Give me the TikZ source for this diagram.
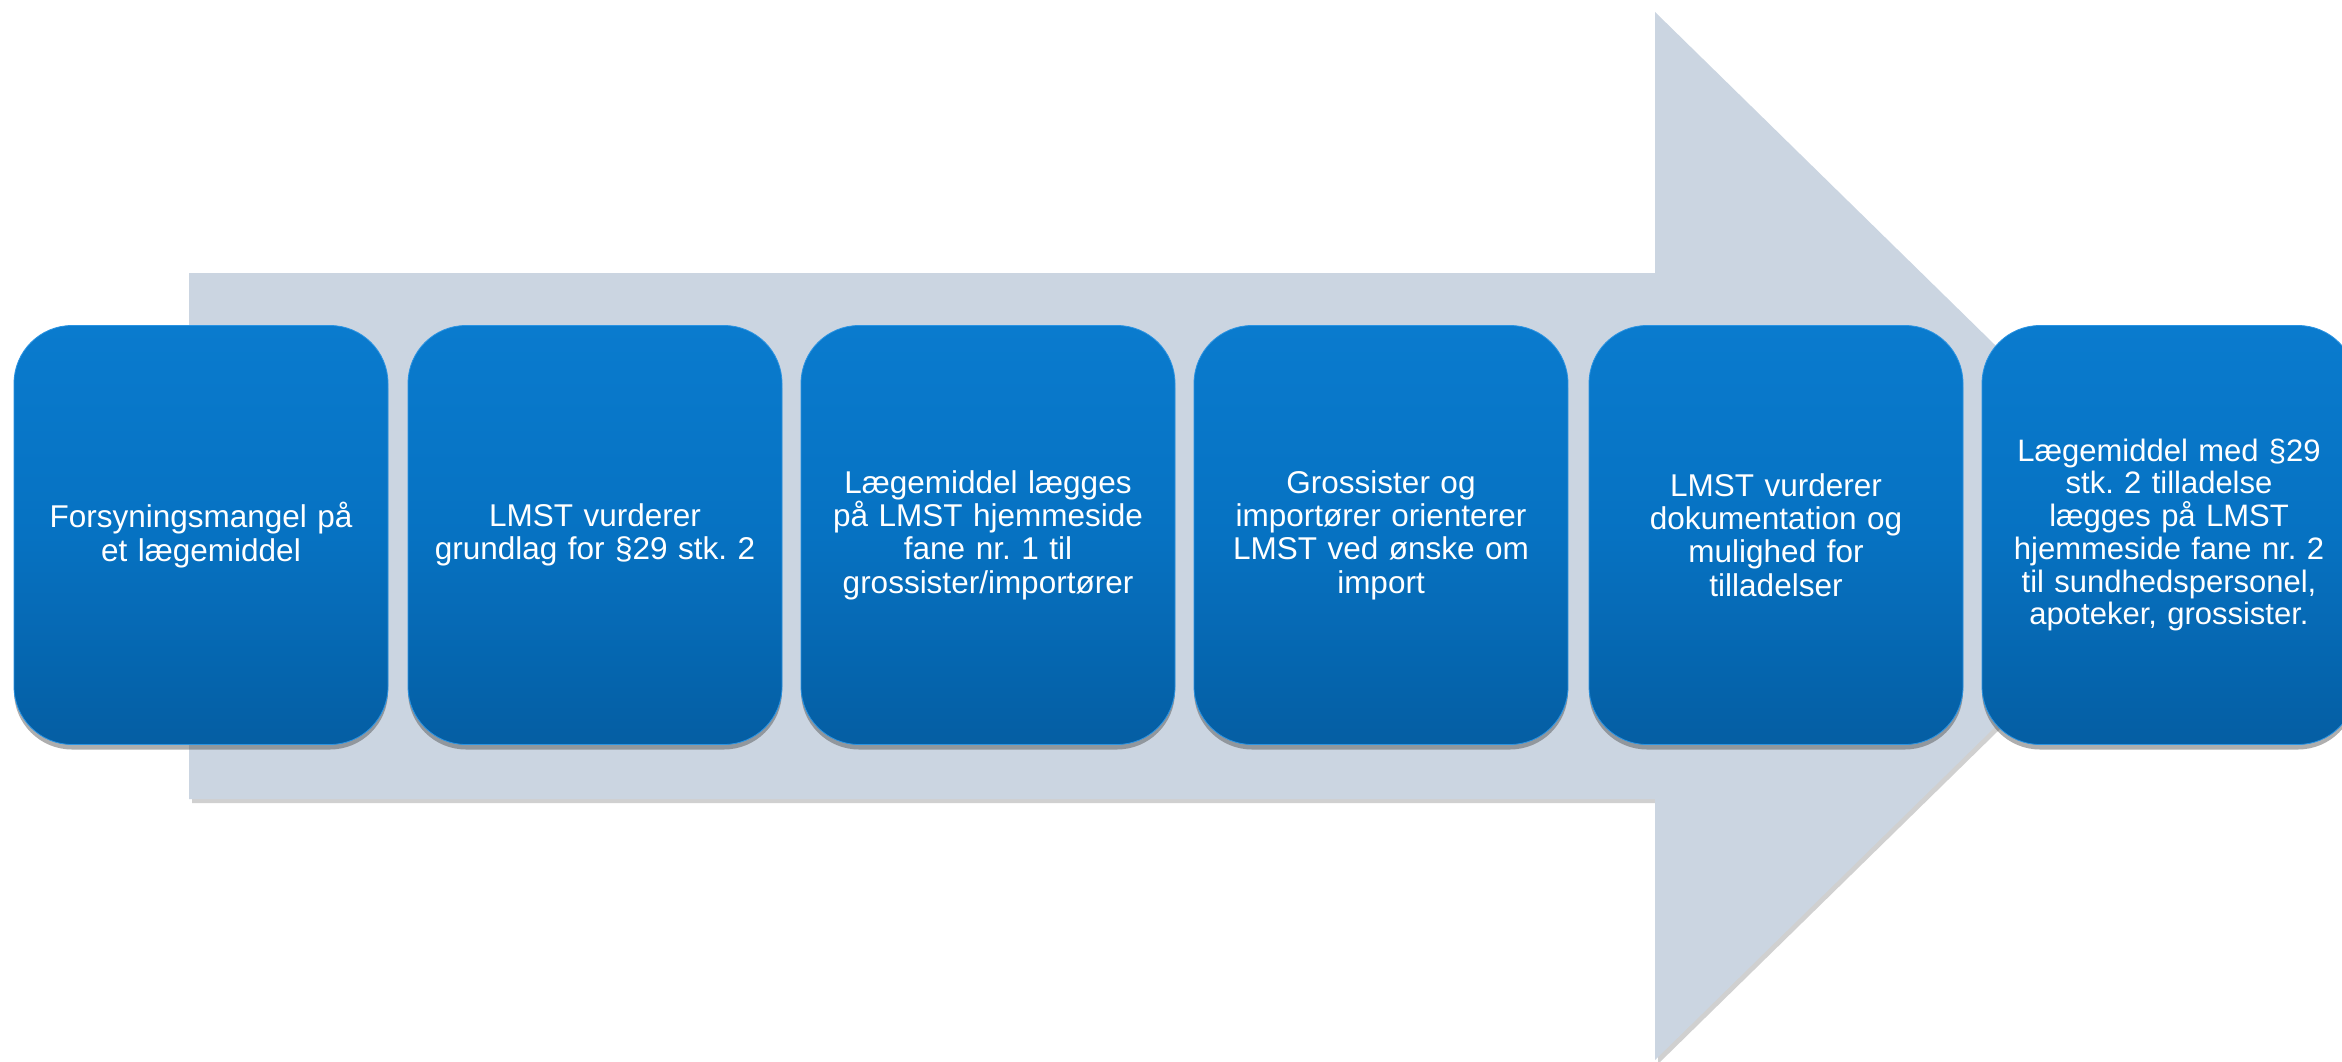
\documentclass[tikz,border=0pt]{standalone}
\usepackage{fontspec}
\setmainfont{Liberation Sans}
\usetikzlibrary{shadows}
\frenchspacing
\definecolor{arrowgray}{HTML}{CBD5E1}
\definecolor{boxtop}{HTML}{0A7BCE}
\definecolor{boxmid}{HTML}{0672C2}
\definecolor{boxbot}{HTML}{055EA3}
\definecolor{boxedge}{HTML}{2A93E2}
\definecolor{titleblue}{HTML}{0A78C8}
\tikzset{
  stepbox/.style={rectangle, rounded corners=58pt, minimum width=374pt, minimum height=419pt,
    inner sep=0pt, text width=350pt, align=center, text=white,
    top color=boxtop, bottom color=boxbot, middle color=boxmid,
    draw=boxedge, line width=0.8pt,
    drop shadow={opacity=0.45, shadow xshift=0pt, shadow yshift=-5pt, fill=black!70},
    font=\frenchspacing\fontsize{31.5}{33.3}\selectfont},
  smalltext/.style={font=\frenchspacing\fontsize{31}{32.7}\selectfont},
  bigarrow/.style={fill=arrowgray,
    drop shadow={opacity=0.3, shadow xshift=3pt, shadow yshift=-4pt, fill=black!60}}
}
\begin{document}
\begin{tikzpicture}[x=1pt,y=-1pt]
\useasboundingbox (0,0) rectangle (2342,1062);
\clip (0,0) rectangle (2342,1062);
\fill[white] (0,0) rectangle (2342,1062);
% cut-off title fragment
\fill[titleblue] (686,0) arc[start angle=180, end angle=360, x radius=14, y radius=4] -- cycle;
% big arrow
\path[bigarrow] (189,273) -- (1655,273) -- (1655,12) -- (2190,536) -- (1655,1060) -- (1655,799) -- (189,799) -- cycle;
% steps
\node[stepbox] (b1) at (201,535) {Forsyningsmangel på\\et lægemiddel};
\node[stepbox] (b2) at (595,535) {LMST vurderer\\grundlag for §29 stk. 2};
\node[stepbox] (b3) at (988,535) {Lægemiddel lægges\\på LMST hjemmeside\\fane nr. 1 til\\grossister/importører};
\node[stepbox] (b4) at (1381,535) {Grossister og\\importører orienterer\\LMST ved ønske om\\import};
\node[stepbox] (b5) at (1776,535) {LMST vurderer\\dokumentation og\\mulighed for\\tilladelser};
\node[stepbox, smalltext] (b6) at (2169,535) {Lægemiddel med §29\\stk. 2 tilladelse\\lægges på LMST\\hjemmeside fane nr. 2\\til sundhedspersonel,\\apoteker, grossister.};
\end{tikzpicture}
\end{document}
